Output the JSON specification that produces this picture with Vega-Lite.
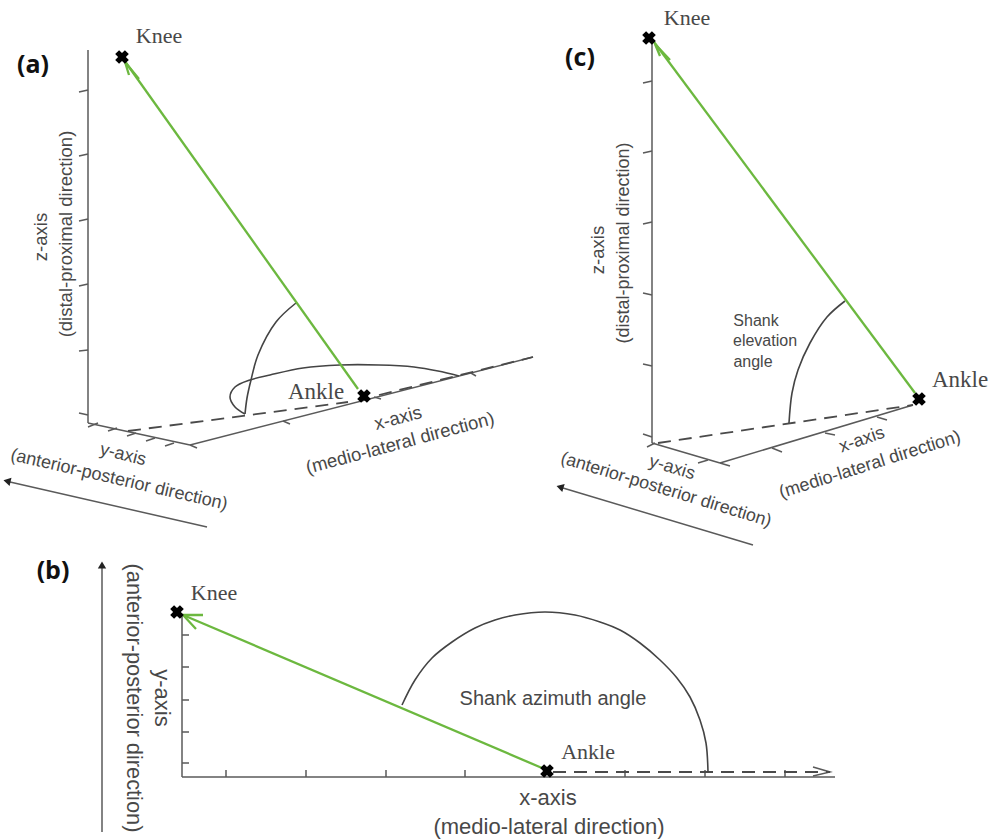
{"$schema":"https://vega.github.io/schema/vega-lite/v6.json","width":995,"height":840,"padding":0,"autosize":{"type":"fit","contains":"padding"},"background":"white","view":{"stroke":null},
"datasets":{
"paths":[
{"kind":"axis","path":"az","seq":1,"x":88,"y":50},{"kind":"axis","path":"az","seq":2,"x":88,"y":423},
{"kind":"axis","path":"ay","seq":1,"x":88,"y":423},{"kind":"axis","path":"ay","seq":2,"x":190,"y":445},
{"kind":"axis","path":"ax","seq":1,"x":190,"y":445},{"kind":"axis","path":"ax","seq":2,"x":533,"y":357},
{"kind":"axis","path":"azt1","seq":1,"x":79,"y":92},{"kind":"axis","path":"azt1","seq":2,"x":88,"y":90},
{"kind":"axis","path":"azt2","seq":1,"x":79,"y":156},{"kind":"axis","path":"azt2","seq":2,"x":88,"y":154},
{"kind":"axis","path":"azt3","seq":1,"x":79,"y":221},{"kind":"axis","path":"azt3","seq":2,"x":88,"y":219},
{"kind":"axis","path":"azt4","seq":1,"x":79,"y":286},{"kind":"axis","path":"azt4","seq":2,"x":88,"y":284},
{"kind":"axis","path":"azt5","seq":1,"x":79,"y":351},{"kind":"axis","path":"azt5","seq":2,"x":88,"y":350},
{"kind":"axis","path":"azt6","seq":1,"x":79,"y":413},{"kind":"axis","path":"azt6","seq":2,"x":88,"y":415},
{"kind":"axis","path":"ayt1","seq":1,"x":88,"y":427},{"kind":"axis","path":"ayt1","seq":2,"x":98,"y":423},
{"kind":"axis","path":"ayt2","seq":1,"x":108,"y":431},{"kind":"axis","path":"ayt2","seq":2,"x":117,"y":428},
{"kind":"axis","path":"ayt3","seq":1,"x":127,"y":436},{"kind":"axis","path":"ayt3","seq":2,"x":136,"y":433},
{"kind":"axis","path":"ayt4","seq":1,"x":146,"y":441},{"kind":"axis","path":"ayt4","seq":2,"x":155,"y":438},
{"kind":"axis","path":"ayt5","seq":1,"x":165,"y":446},{"kind":"axis","path":"ayt5","seq":2,"x":174,"y":443},
{"kind":"axis","path":"axt1","seq":1,"x":190,"y":445},{"kind":"axis","path":"axt1","seq":2,"x":197,"y":448},
{"kind":"axis","path":"axt2","seq":1,"x":283,"y":421},{"kind":"axis","path":"axt2","seq":2,"x":290,"y":424},
{"kind":"axis","path":"axt3","seq":1,"x":374,"y":397},{"kind":"axis","path":"axt3","seq":2,"x":381,"y":399},
{"kind":"axis","path":"axt4","seq":1,"x":471,"y":373},{"kind":"axis","path":"axt4","seq":2,"x":476,"y":376},
{"kind":"axis","path":"aarrow","seq":1,"x":207,"y":527},{"kind":"axis","path":"aarrow","seq":2,"x":10,"y":482},

{"kind":"axis","path":"cz","seq":1,"x":652,"y":38},{"kind":"axis","path":"cz","seq":2,"x":652,"y":443},
{"kind":"axis","path":"cy","seq":1,"x":652,"y":443},{"kind":"axis","path":"cy","seq":2,"x":720,"y":463},
{"kind":"axis","path":"cx","seq":1,"x":720,"y":463},{"kind":"axis","path":"cx","seq":2,"x":913,"y":405},
{"kind":"axis","path":"czt1","seq":1,"x":643,"y":83},{"kind":"axis","path":"czt1","seq":2,"x":652,"y":81},
{"kind":"axis","path":"czt2","seq":1,"x":643,"y":153},{"kind":"axis","path":"czt2","seq":2,"x":652,"y":151},
{"kind":"axis","path":"czt3","seq":1,"x":643,"y":224},{"kind":"axis","path":"czt3","seq":2,"x":652,"y":222},
{"kind":"axis","path":"czt4","seq":1,"x":643,"y":293},{"kind":"axis","path":"czt4","seq":2,"x":652,"y":295},
{"kind":"axis","path":"czt5","seq":1,"x":643,"y":364},{"kind":"axis","path":"czt5","seq":2,"x":652,"y":366},
{"kind":"axis","path":"czt6","seq":1,"x":643,"y":434},{"kind":"axis","path":"czt6","seq":2,"x":652,"y":437},
{"kind":"axis","path":"cyt1","seq":1,"x":647,"y":447},{"kind":"axis","path":"cyt1","seq":2,"x":655,"y":443},
{"kind":"axis","path":"cyt2","seq":1,"x":698,"y":463},{"kind":"axis","path":"cyt2","seq":2,"x":708,"y":460},
{"kind":"axis","path":"cxt1","seq":1,"x":720,"y":463},{"kind":"axis","path":"cxt1","seq":2,"x":730,"y":466},
{"kind":"axis","path":"cxt2","seq":1,"x":772,"y":448},{"kind":"axis","path":"cxt2","seq":2,"x":782,"y":452},
{"kind":"axis","path":"cxt3","seq":1,"x":825,"y":433},{"kind":"axis","path":"cxt3","seq":2,"x":835,"y":435},
{"kind":"axis","path":"cxt4","seq":1,"x":877,"y":417},{"kind":"axis","path":"cxt4","seq":2,"x":887,"y":420},
{"kind":"axis","path":"carrow","seq":1,"x":753,"y":545},{"kind":"axis","path":"carrow","seq":2,"x":563,"y":488},

{"kind":"axis","path":"by","seq":1,"x":182,"y":615},{"kind":"axis","path":"by","seq":2,"x":182,"y":777},
{"kind":"axis","path":"bx","seq":1,"x":182,"y":777},{"kind":"axis","path":"bx","seq":2,"x":835,"y":777},
{"kind":"axis","path":"byt1","seq":1,"x":182,"y":635},{"kind":"axis","path":"byt1","seq":2,"x":189,"y":635},
{"kind":"axis","path":"byt2","seq":1,"x":182,"y":667},{"kind":"axis","path":"byt2","seq":2,"x":189,"y":667},
{"kind":"axis","path":"byt3","seq":1,"x":182,"y":700},{"kind":"axis","path":"byt3","seq":2,"x":189,"y":700},
{"kind":"axis","path":"byt4","seq":1,"x":182,"y":732},{"kind":"axis","path":"byt4","seq":2,"x":189,"y":732},
{"kind":"axis","path":"byt5","seq":1,"x":182,"y":763},{"kind":"axis","path":"byt5","seq":2,"x":189,"y":763},
{"kind":"axis","path":"bxt1","seq":1,"x":226,"y":777},{"kind":"axis","path":"bxt1","seq":2,"x":226,"y":770},
{"kind":"axis","path":"bxt2","seq":1,"x":306,"y":777},{"kind":"axis","path":"bxt2","seq":2,"x":306,"y":770},
{"kind":"axis","path":"bxt3","seq":1,"x":386,"y":777},{"kind":"axis","path":"bxt3","seq":2,"x":386,"y":770},
{"kind":"axis","path":"bxt4","seq":1,"x":465,"y":777},{"kind":"axis","path":"bxt4","seq":2,"x":465,"y":770},
{"kind":"axis","path":"bxt5","seq":1,"x":545,"y":777},{"kind":"axis","path":"bxt5","seq":2,"x":545,"y":770},
{"kind":"axis","path":"bxt6","seq":1,"x":625,"y":777},{"kind":"axis","path":"bxt6","seq":2,"x":625,"y":770},
{"kind":"axis","path":"bxt7","seq":1,"x":705,"y":777},{"kind":"axis","path":"bxt7","seq":2,"x":705,"y":770},
{"kind":"axis","path":"bxt8","seq":1,"x":785,"y":777},{"kind":"axis","path":"bxt8","seq":2,"x":785,"y":770},
{"kind":"axis","path":"barrow","seq":1,"x":102,"y":832},{"kind":"axis","path":"barrow","seq":2,"x":102,"y":568},
{"kind":"axis","path":"bhead1","seq":1,"x":813,"y":767},{"kind":"axis","path":"bhead1","seq":2,"x":830,"y":772},{"kind":"axis","path":"bhead1","seq":3,"x":813,"y":776},

{"kind":"dash","path":"ad1","seq":1,"x":128,"y":431},{"kind":"dash","path":"ad1","seq":2,"x":348,"y":402},
{"kind":"dash","path":"ad2","seq":1,"x":379,"y":395},{"kind":"dash","path":"ad2","seq":2,"x":533,"y":357},
{"kind":"dash","path":"cd1","seq":1,"x":658,"y":443},{"kind":"dash","path":"cd1","seq":2,"x":913,"y":405},
{"kind":"dash","path":"bd1","seq":1,"x":553,"y":772},{"kind":"dash","path":"bd1","seq":2,"x":830,"y":772},

{"kind":"arc","path":"aev","seq":1,"x":296,"y":303},{"kind":"arc","path":"aev","seq":2,"x":276,"y":322},{"kind":"arc","path":"aev","seq":3,"x":258,"y":355},{"kind":"arc","path":"aev","seq":4,"x":251,"y":380},{"kind":"arc","path":"aev","seq":5,"x":247,"y":398},{"kind":"arc","path":"aev","seq":6,"x":245,"y":414},
{"kind":"arc","path":"aaz","seq":1,"x":245,"y":414},{"kind":"arc","path":"aaz","seq":2,"x":235,"y":407},{"kind":"arc","path":"aaz","seq":3,"x":230,"y":397},{"kind":"arc","path":"aaz","seq":4,"x":235,"y":387},{"kind":"arc","path":"aaz","seq":5,"x":250,"y":380},{"kind":"arc","path":"aaz","seq":6,"x":270,"y":375},{"kind":"arc","path":"aaz","seq":7,"x":303,"y":368},{"kind":"arc","path":"aaz","seq":8,"x":340,"y":365},{"kind":"arc","path":"aaz","seq":9,"x":379,"y":365},{"kind":"arc","path":"aaz","seq":10,"x":414,"y":367},{"kind":"arc","path":"aaz","seq":11,"x":438,"y":371},{"kind":"arc","path":"aaz","seq":12,"x":459,"y":376},
{"kind":"arc","path":"cev","seq":1,"x":845,"y":301},{"kind":"arc","path":"cev","seq":2,"x":827,"y":317},{"kind":"arc","path":"cev","seq":3,"x":810,"y":343},{"kind":"arc","path":"cev","seq":4,"x":798,"y":370},{"kind":"arc","path":"cev","seq":5,"x":792,"y":393},{"kind":"arc","path":"cev","seq":6,"x":789,"y":423},
{"kind":"arc","path":"baz","seq":1,"x":402,"y":705},{"kind":"arc","path":"baz","seq":2,"x":415,"y":680},{"kind":"arc","path":"baz","seq":3,"x":432,"y":658},{"kind":"arc","path":"baz","seq":4,"x":452,"y":642},{"kind":"arc","path":"baz","seq":5,"x":475,"y":628},{"kind":"arc","path":"baz","seq":6,"x":495,"y":620},{"kind":"arc","path":"baz","seq":7,"x":515,"y":615},{"kind":"arc","path":"baz","seq":8,"x":545,"y":612},{"kind":"arc","path":"baz","seq":9,"x":575,"y":615},{"kind":"arc","path":"baz","seq":10,"x":600,"y":622},{"kind":"arc","path":"baz","seq":11,"x":620,"y":630},{"kind":"arc","path":"baz","seq":12,"x":640,"y":643},{"kind":"arc","path":"baz","seq":13,"x":660,"y":660},{"kind":"arc","path":"baz","seq":14,"x":677,"y":678},{"kind":"arc","path":"baz","seq":15,"x":690,"y":697},{"kind":"arc","path":"baz","seq":16,"x":700,"y":720},{"kind":"arc","path":"baz","seq":17,"x":706,"y":743},{"kind":"arc","path":"baz","seq":18,"x":708,"y":772},

{"kind":"shank","path":"as","seq":1,"x":124,"y":60},{"kind":"shank","path":"as","seq":2,"x":358,"y":389},
{"kind":"shank","path":"ah","seq":1,"x":129,"y":75},{"kind":"shank","path":"ah","seq":2,"x":125,"y":62},{"kind":"shank","path":"ah","seq":3,"x":139,"y":79},
{"kind":"shank","path":"cs","seq":1,"x":654,"y":42},{"kind":"shank","path":"cs","seq":2,"x":915,"y":393},
{"kind":"shank","path":"ch","seq":1,"x":660,"y":56},{"kind":"shank","path":"ch","seq":2,"x":655,"y":44},{"kind":"shank","path":"ch","seq":3,"x":670,"y":60},
{"kind":"shank","path":"bs","seq":1,"x":183,"y":615},{"kind":"shank","path":"bs","seq":2,"x":542,"y":768},
{"kind":"shank","path":"bh","seq":1,"x":203,"y":615},{"kind":"shank","path":"bh","seq":2,"x":183,"y":615},{"kind":"shank","path":"bh","seq":3,"x":196,"y":629}
],
"joints":[{"name":"Knee","x":122,"y":57},{"name":"Ankle","x":364,"y":396},{"name":"Knee","x":649,"y":38},{"name":"Ankle","x":919,"y":399},{"name":"Knee","x":177,"y":612},{"name":"Ankle","x":547,"y":771}],
"heads":[{"x":7,"y":481,"rot":283},{"x":560,"y":487,"rot":287},{"x":102,"y":565,"rot":0}],
"labels":[
{"font":"serif","t":"Knee","x":159,"y":36,"size":22,"rot":0},
{"font":"serif","t":"Ankle","x":316,"y":392,"size":23,"rot":0},
{"font":"serif","t":"Knee","x":687,"y":18,"size":22,"rot":0},
{"font":"serif","t":"Ankle","x":960,"y":380,"size":23,"rot":0},
{"font":"serif","t":"Knee","x":214,"y":593,"size":22,"rot":0},
{"font":"serif","t":"Ankle","x":588,"y":752,"size":22,"rot":0},
{"font":"bold","t":"(a)","x":33,"y":65,"size":25,"rot":0},
{"font":"bold","t":"(c)","x":580,"y":58,"size":25,"rot":0},
{"font":"bold","t":"(b)","x":53,"y":571,"size":25,"rot":0},
{"font":"sans","t":"z-axis","x":41,"y":237,"size":18.5,"rot":-90},
{"font":"sans","t":"(distal-proximal direction)","x":66,"y":234,"size":18.5,"rot":-90},
{"font":"sans","t":"y-axis","x":123,"y":455,"size":18,"rot":14},
{"font":"sans","t":"(anterior-posterior direction)","x":119,"y":480,"size":18,"rot":13},
{"font":"sans","t":"x-axis","x":398,"y":418,"size":18.5,"rot":-15},
{"font":"sans","t":"(medio-lateral direction)","x":400,"y":443,"size":18.5,"rot":-15},
{"font":"sans","t":"z-axis","x":598,"y":250,"size":18.5,"rot":-90},
{"font":"sans","t":"(distal-proximal direction)","x":624,"y":243,"size":18,"rot":-90},
{"font":"sans","t":"y-axis","x":672,"y":468,"size":18,"rot":17},
{"font":"sans","t":"(anterior-posterior direction)","x":666,"y":490,"size":17.8,"rot":17},
{"font":"sans","t":"x-axis","x":862,"y":440,"size":18,"rot":-19},
{"font":"sans","t":"(medio-lateral direction)","x":870,"y":465,"size":18,"rot":-17.5},
{"font":"sans","t":"Shank","x":756,"y":321,"size":16,"rot":0},
{"font":"sans","t":"elevation","x":765,"y":341,"size":16,"rot":0},
{"font":"sans","t":"angle","x":753,"y":362,"size":16,"rot":0},
{"font":"sans","t":"Shank azimuth angle","x":553,"y":699,"size":20,"rot":0},
{"font":"sans","t":"x-axis","x":548,"y":798,"size":22,"rot":0},
{"font":"sans","t":"(medio-lateral direction)","x":549,"y":827,"size":22,"rot":0},
{"font":"sans","t":"y-axis","x":162,"y":698,"size":22,"rot":90},
{"font":"sans","t":"(anterior-posterior direction)","x":134,"y":698,"size":21.8,"rot":90}
]},
"encoding":{
"x":{"field":"x","type":"quantitative","scale":{"domain":[0,995],"nice":false,"zero":false},"axis":null},
"y":{"field":"y","type":"quantitative","scale":{"domain":[840,0],"nice":false,"zero":false},"axis":null}},
"layer":[
{"data":{"name":"paths"},"transform":[{"filter":"datum.kind==='axis'"}],"mark":{"type":"line","stroke":"#5a5a5a","strokeWidth":1.5,"clip":false},"encoding":{"detail":{"field":"path"},"order":{"field":"seq","type":"quantitative"}}},
{"data":{"name":"paths"},"transform":[{"filter":"datum.kind==='dash'"}],"mark":{"type":"line","stroke":"#4a4a4a","strokeWidth":1.8,"strokeDash":[13,8]},"encoding":{"detail":{"field":"path"},"order":{"field":"seq","type":"quantitative"}}},
{"data":{"name":"paths"},"transform":[{"filter":"datum.kind==='arc'"}],"mark":{"type":"line","interpolate":"catmull-rom","stroke":"#444444","strokeWidth":1.6},"encoding":{"detail":{"field":"path"},"order":{"field":"seq","type":"quantitative"}}},
{"data":{"name":"paths"},"transform":[{"filter":"datum.kind==='shank'"}],"mark":{"type":"line","stroke":"#6cb83f","strokeWidth":2.3},"encoding":{"detail":{"field":"path"},"order":{"field":"seq","type":"quantitative"}}},
{"data":{"name":"heads"},"mark":{"type":"point","shape":"triangle-up","filled":true,"fill":"#222222","stroke":null,"size":70,"opacity":1},"encoding":{"angle":{"field":"rot","type":"quantitative","scale":null}}},
{"data":{"name":"joints"},"mark":{"type":"point","shape":"cross","angle":45,"filled":true,"fill":"#000000","stroke":null,"size":190,"opacity":1},"encoding":{"detail":{"field":"name"}}},
{"data":{"name":"labels"},"transform":[{"filter":"datum.font==='sans'"}],"mark":{"type":"text","font":"Liberation Sans","fill":"#484848","align":"center","baseline":"middle"},"encoding":{"text":{"field":"t"},"size":{"field":"size","type":"quantitative","scale":null},"angle":{"field":"rot","type":"quantitative","scale":null}}},
{"data":{"name":"labels"},"transform":[{"filter":"datum.font==='serif'"}],"mark":{"type":"text","font":"Liberation Serif","fill":"#484848","align":"center","baseline":"middle"},"encoding":{"text":{"field":"t"},"size":{"field":"size","type":"quantitative","scale":null},"angle":{"field":"rot","type":"quantitative","scale":null}}},
{"data":{"name":"labels"},"transform":[{"filter":"datum.font==='bold'"}],"mark":{"type":"text","font":"Open Sans","fontWeight":"bold","fill":"#111111","align":"center","baseline":"middle"},"encoding":{"text":{"field":"t"},"size":{"field":"size","type":"quantitative","scale":null},"angle":{"field":"rot","type":"quantitative","scale":null}}}
]}
